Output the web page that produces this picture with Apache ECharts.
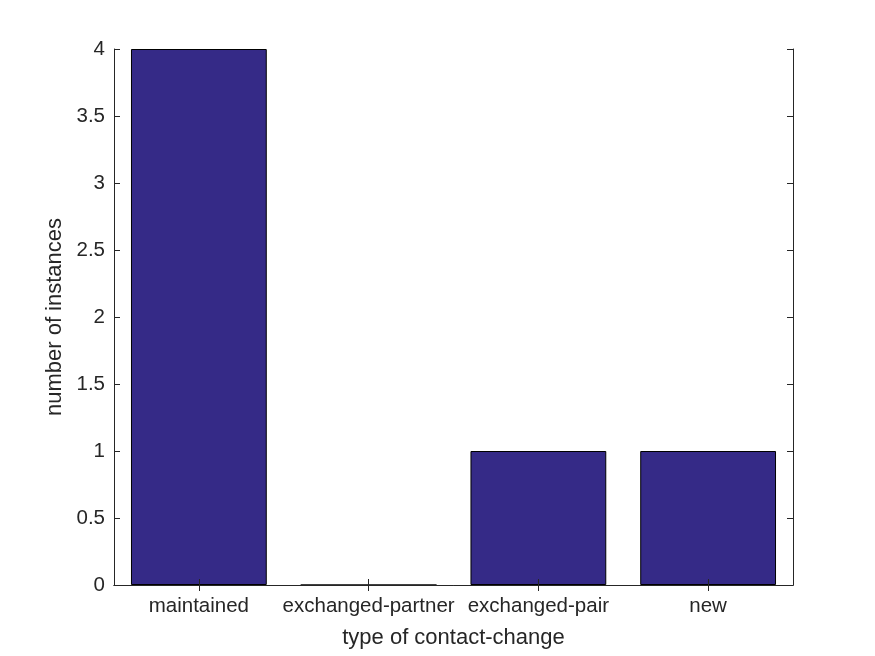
<!DOCTYPE html>
<html><head><meta charset="utf-8">
<script src="https://cdn.jsdelivr.net/npm/echarts@6/dist/echarts.min.js"></script>
<style>html,body{margin:0;padding:0;background:#fff}#c{width:875px;height:656px}</style>
</head><body><div id="c"></div>
<script>
const categories = ['maintained', 'exchanged-partner', 'exchanged-pair', 'new'];
const counts = [4, 0, 1, 1];
const yTicks = [0, 0.5, 1, 1.5, 2, 2.5, 3, 3.5, 4];

const chart = echarts.init(document.getElementById('c'));
const font = 'Liberation Sans, Arial, Helvetica, sans-serif';
const lineStyle = {color: '#262626', width: 1};
chart.setOption({
  animation: false,
  grid: {left: 114, right: 82, top: 49, bottom: 71, containLabel: false},
  xAxis: [{
    type: 'category', data: categories, position: 'bottom', z: 10,
    axisLine: {show: true, lineStyle},
    axisTick: {show: true, inside: true, length: 6, alignWithLabel: true, interval: 0, lineStyle},
    axisLabel: {color: '#262626', fontFamily: font, fontSize: 20.5, margin: 11, interval: 0, hideOverlap: false},
    name: 'type of contact-change', nameLocation: 'middle', nameGap: 42,
    nameTextStyle: {color: '#262626', fontFamily: font, fontSize: 22},
    splitLine: {show: false}
  }, {
    type: 'category', data: categories, position: 'top', z: 10,
    axisLine: {show: true, lineStyle},
    axisTick: {show: true, inside: true, length: 6, alignWithLabel: true, interval: 0, lineStyle},
    axisLabel: {show: false}, splitLine: {show: false}
  }],
  yAxis: [{
    type: 'value', min: 0, max: 4, interval: 0.5, position: 'left', z: 10,
    axisLine: {show: true, lineStyle},
    axisTick: {show: true, inside: true, length: 6, lineStyle},
    axisLabel: {color: '#262626', fontFamily: font, fontSize: 20.5, margin: 9,
      formatter: v => yTicks.includes(v) ? String(v) : ''},
    name: 'number of instances', nameLocation: 'middle', nameGap: 45, nameRotate: 90,
    nameTextStyle: {color: '#262626', fontFamily: font, fontSize: 22},
    splitLine: {show: false}
  }, {
    type: 'value', min: 0, max: 4, interval: 0.5, position: 'right', z: 10,
    axisLine: {show: true, lineStyle},
    axisTick: {show: true, inside: true, length: 6, lineStyle},
    axisLabel: {show: false}, splitLine: {show: false}
  }],
  series: [{
    type: 'bar', data: counts, xAxisIndex: 0, yAxisIndex: 0,
    barCategoryGap: '20%',
    itemStyle: {color: '#352a87', borderColor: '#000', borderWidth: 1}
  }]
});
</script></body></html>
